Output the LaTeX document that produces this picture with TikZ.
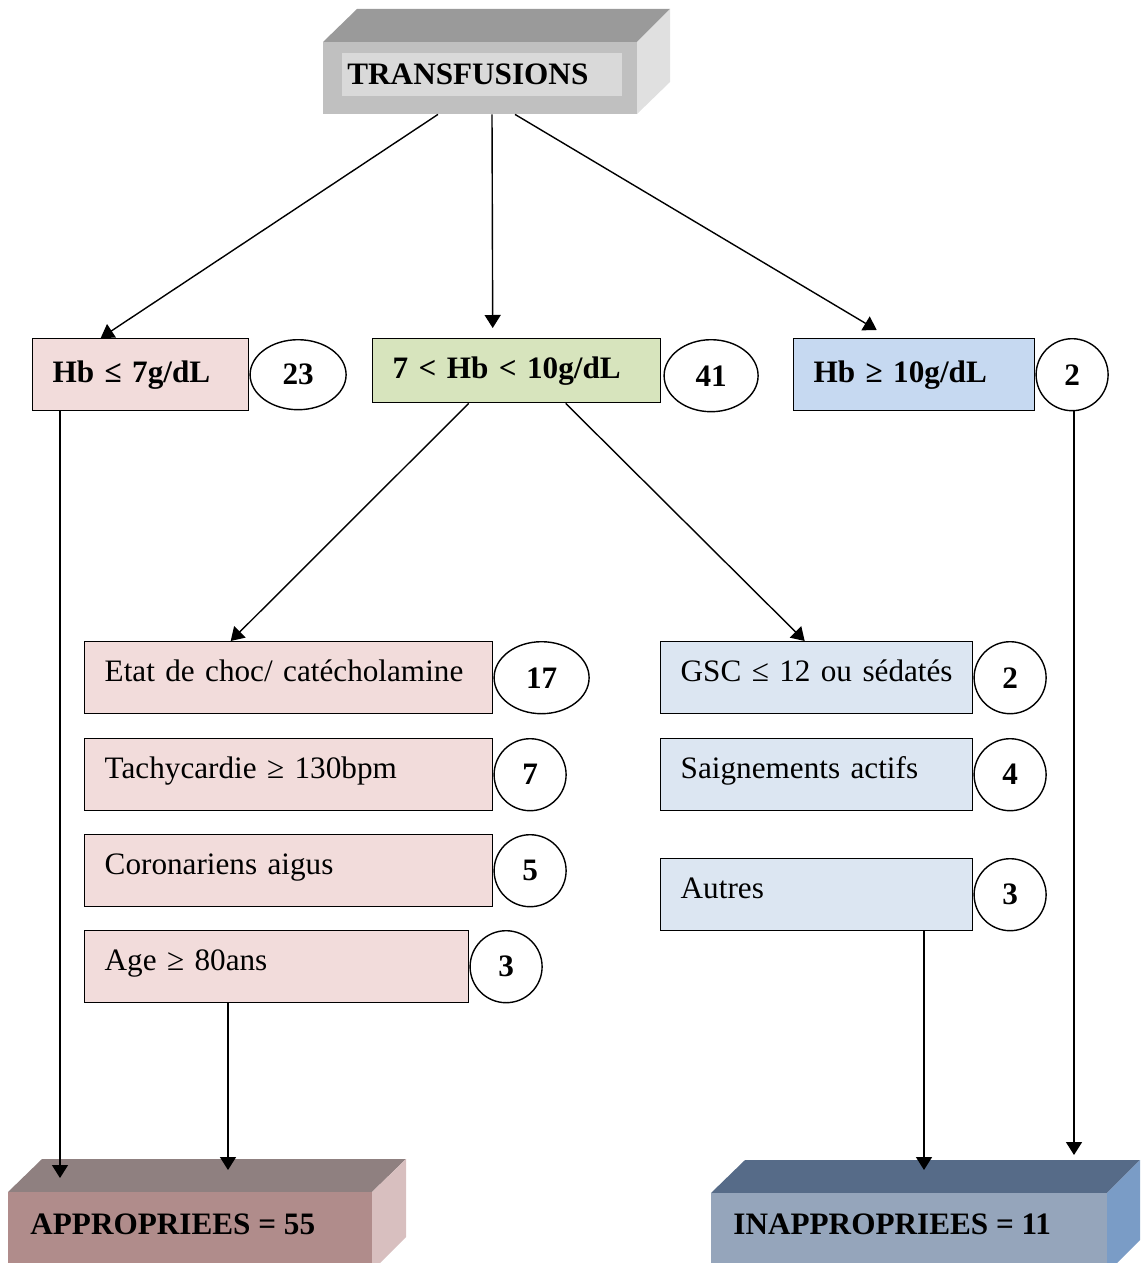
\documentclass[tikz,border=0pt]{standalone}
\usepackage{fontspec}
\setmainfont{Liberation Serif}
\usepackage{xcolor}
\usepackage{tikz}
\usetikzlibrary{
  arrows.meta,
  calc,
  positioning,
  shapes.geometric
}

\definecolor{pinkbox}{HTML}{F2DCDB}
\definecolor{greenbox}{HTML}{D7E4BD}
\definecolor{bluebox}{HTML}{C6D9F1}
\definecolor{paleblue}{HTML}{DCE6F2}
\definecolor{grayfront}{HTML}{C0C0C0}
\definecolor{graytop}{HTML}{9A9A9A}
\definecolor{grayside}{HTML}{E0E0E0}
\definecolor{grayinner}{HTML}{D9D9D9}
\definecolor{rosefront}{HTML}{B08C8B}
\definecolor{rosetop}{HTML}{8F8080}
\definecolor{roseside}{HTML}{D8BFBF}
\definecolor{slatefront}{HTML}{95A5BB}
\definecolor{slatetop}{HTML}{566B88}
\definecolor{slateside}{HTML}{7A9CC6}

\newcommand{\diagfont}{\fontsize{15.6}{19}\selectfont}

\begin{document}
\begin{tikzpicture}[
  x=0.5pt, y=-0.5pt,
  arr/.style={-{Triangle[length=6.5pt,width=8pt]}, line width=0.7pt},
  hbbox/.style={
    rectangle,
    draw,
    line width=0.7pt,
    anchor=north west,
    align=left,
    inner xsep=10pt, inner ysep=0pt,
    font=\diagfont\bfseries
  },
  critbox/.style={
    rectangle,
    draw,
    line width=0.7pt,
    anchor=north west,
    align=left,
    inner xsep=10pt, inner ysep=0pt,
    minimum height=36pt,
    text height=0.75em, text depth=0.4em,
    font=\diagfont
  },
  count/.style={
    ellipse,
    draw,
    line width=0.7pt,
    fill=white,
    inner sep=0pt,
    font=\diagfont\bfseries
  },
  boxlabel/.style={anchor=west, inner sep=0pt, font=\diagfont\bfseries}
]
\useasboundingbox (0,0) rectangle (1144,1263);

% top block
\fill[graytop] (323,42) -- (357,9) -- (670,9) -- (637,42) -- cycle;
\fill[grayside] (637,42) -- (670,9) -- (670,82) -- (637,114) -- cycle;
\node[fill=grayfront, minimum width=157pt, minimum height=36pt, inner sep=0pt] (transf) at (480,78) {};
\fill[grayinner] (342,53) rectangle (622,96);
\node[boxlabel] (transftext) at (347,74) {TRANSFUSIONS};

% Hb levels
\node[hbbox, fill=pinkbox, text width=88pt, minimum height=36pt] (hblow) at (32,338) {Hb ≤ 7g/dL};
\node[hbbox, fill=greenbox, text width=124pt, minimum height=32pt] (hbmid) at (372,338) {7 < Hb < 10g/dL};
\node[hbbox, fill=bluebox, text width=100.5pt, minimum height=36pt] (hbhigh) at (793,338) {Hb ≥ 10g/dL};

\node[count, minimum width=48pt, minimum height=35pt, right=0pt of hblow] (nlow) {23};
\node[count, minimum width=47pt, minimum height=36pt, right=1pt of hbmid, yshift=-2.5pt] (nmid) {41};
\node[count, minimum size=36pt, right=0pt of hbhigh] (nhigh) {2};

% criteria
\node[critbox, fill=pinkbox, text width=184pt] (choc) at (84,641) {\mbox{Etat de choc/ catécholamine}};
\node[critbox, fill=pinkbox, text width=184pt] (tachy) at (84,738) {\mbox{Tachycardie ≥ 130bpm}};
\node[critbox, fill=pinkbox, text width=184pt] (corona) at (84,834) {\mbox{Coronariens aigus}};
\node[critbox, fill=pinkbox, text width=172pt] (age) at (84,930) {\mbox{Age ≥ 80ans}};
\node[critbox, fill=paleblue, text width=136pt] (gsc) at (660,641) {\mbox{GSC ≤ 12 ou sédatés}};
\node[critbox, fill=paleblue, text width=136pt] (saign) at (660,738) {\mbox{Saignements actifs}};
\node[critbox, fill=paleblue, text width=136pt] (autres) at (660,858) {\mbox{Autres}};

\node[count, minimum width=47.5pt, minimum height=36pt, right=0pt of choc] (nchoc) {17};
\node[count, minimum size=36pt, right=0pt of tachy] (ntachy) {7};
\node[count, minimum size=36pt, right=0pt of corona] (ncorona) {5};
\node[count, minimum size=36pt, right=0pt of age] (nage) {3};
\node[count, minimum size=36pt, right=0pt of gsc] (ngsc) {2};
\node[count, minimum size=36pt, right=0pt of saign] (nsaign) {4};
\node[count, minimum size=36pt, right=0pt of autres] (nautres) {3};

% result blocks
\fill[rosetop] (8,1192) -- (42,1159) -- (406,1159) -- (372,1192) -- cycle;
\fill[roseside] (372,1192) -- (406,1159) -- (406,1237) -- (380,1263) -- (372,1263) -- cycle;
\fill[rosefront] (8,1192) rectangle (372,1263);
\node[boxlabel] (approp) at (30,1224) {APPROPRIEES = 55};

\fill[slatetop] (711,1193) -- (745,1160) -- (1140,1160) -- (1107,1193) -- cycle;
\fill[slateside] (1107,1193) -- (1140,1160) -- (1140,1240) -- (1117,1263) -- (1107,1263) -- cycle;
\fill[slatefront] (711,1193) rectangle (1107,1263);
\node[boxlabel] (inapprop) at (733,1224) {INAPPROPRIEES = 11};

\coordinate (appin1) at (60,1178);
\coordinate (appin2) at (228,1170);
\coordinate (inapin1) at (924,1170);
\coordinate (inapin2) at (1074,1155);

% connectors
\draw[arr] ($(transf.south)+(-42,0)$) -- ($(hblow.north)+(-40,0)$);
\draw[arr] ($(transf.south)+(12,0)$) -- ($(hbmid.north)+(-24,-10)$);
\draw[arr] ($(transf.south)+(35,0)$) -- ($(hbhigh.north)+(-37.5,-8)$);
\draw[arr] ($(hbmid.south)+(-48,0)$) -- ($(choc.north)+(-58,0)$);
\draw[arr] ($(hbmid.south)+(49,0)$) -- ($(gsc.north)+(-12,0)$);
\draw[arr] (hblow.south -| appin1) -- (appin1);
\draw[arr] (age.south -| appin2) -- (appin2);
\draw[arr] (autres.south -| inapin1) -- (inapin1);
\draw[arr] (nhigh.south -| inapin2) -- (inapin2);
\end{tikzpicture}
\end{document}
